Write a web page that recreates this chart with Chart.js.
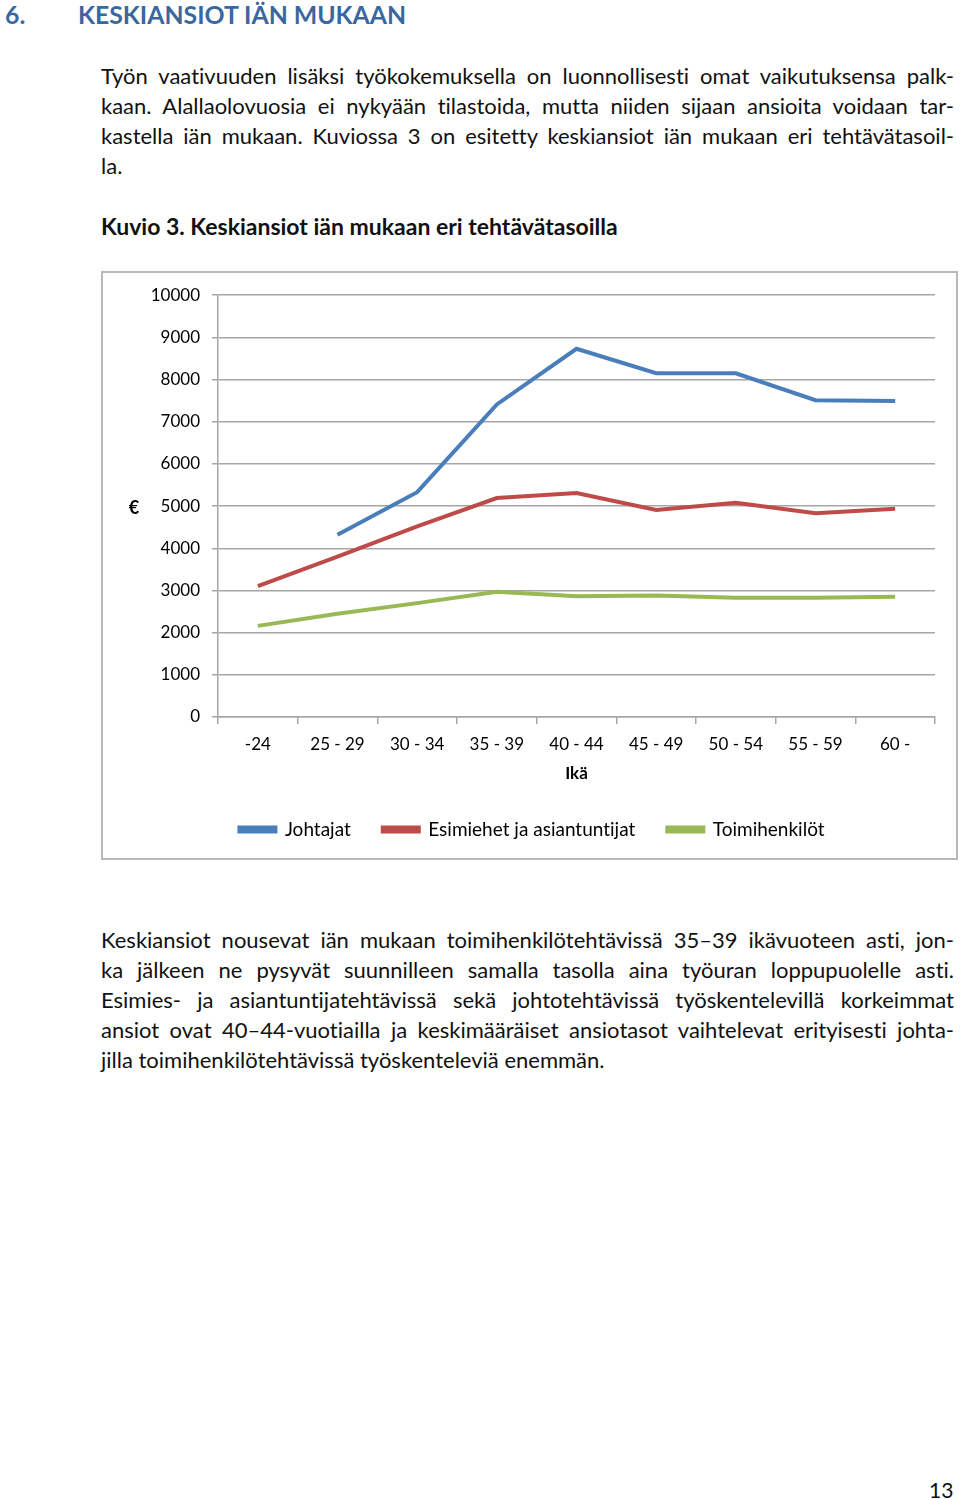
<!DOCTYPE html>
<html lang="fi">
<head>
<meta charset="utf-8">
<script src="https://cdn.jsdelivr.net/npm/chart.js@4.4.1/dist/chart.umd.min.js"></script>
<style>
  html, body { margin: 0; padding: 0; background: #fff; }
  body { width: 960px; height: 1499px; position: relative; overflow: hidden; font-family: Lato, "Liberation Sans", sans-serif; color: #111; font-variant-ligatures: none; }
  .abs { position: absolute; white-space: nowrap; }
  .h1 { font-weight: bold; font-size: 24.8px; color: #3a67a0; line-height: 30px; }
  .para { position: absolute; left: 101px; width: 853px; font-size: 22px; line-height: 30px; }
  .para div { text-align: justify; text-align-last: justify; white-space: nowrap; height: 30px; }
  .para div.last { text-align-last: left; }
  .cap { font-weight: bold; font-size: 23px; line-height: 30px; }
  #box { position: absolute; left: 101px; top: 271px; width: 853px; height: 585px; border: 2px solid #b8b8b8; }
  #wrap { position: absolute; left: 0; top: 0; width: 853px; height: 585px; }
</style>
</head>
<body>
<div class="abs h1" style="left:5px; top:0px;">6.</div>
<div class="abs h1" style="left:78px; top:0px;">KESKIANSIOT IÄN MUKAAN</div>

<div class="para" style="top:61px;">
  <div>Työn vaativuuden lisäksi työkokemuksella on luonnollisesti omat vaikutuksensa palk-</div>
  <div>kaan. Alallaolovuosia ei nykyään tilastoida, mutta niiden sijaan ansioita voidaan tar-</div>
  <div>kastella iän mukaan. Kuviossa 3 on esitetty keskiansiot iän mukaan eri tehtävätasoil-</div>
  <div class="last">la.</div>
</div>

<div class="abs cap" style="left:101px; top:211px;">Kuvio 3. Keskiansiot iän mukaan eri tehtävätasoilla</div>

<div id="box"><div id="wrap"><canvas id="c"></canvas></div></div>

<div class="para" style="top:925px;">
  <div>Keskiansiot nousevat iän mukaan toimihenkilötehtävissä 35–39 ikävuoteen asti, jon-</div>
  <div>ka jälkeen ne pysyvät suunnilleen samalla tasolla aina työuran loppupuolelle asti.</div>
  <div>Esimies- ja asiantuntijatehtävissä sekä johtotehtävissä työskentelevillä korkeimmat</div>
  <div>ansiot ovat 40–44-vuotiailla ja keskimääräiset ansiotasot vaihtelevat erityisesti johta-</div>
  <div class="last">jilla toimihenkilötehtävissä työskenteleviä enemmän.</div>
</div>

<div class="abs" style="left:929px; top:1476px; font-size:21px; line-height:28px;">13</div>

<script>
const categories = ['-24', '25 - 29', '30 - 34', '35 - 39', '40 - 44', '45 - 49', '50 - 54', '55 - 59', '60 -'];
const johtajat = [null, 4320, 5330, 7410, 8730, 8150, 8150, 7510, 7490];
const esimiehet = [3100, 3800, 4520, 5190, 5310, 4910, 5080, 4830, 4940];
const toimihenkilot = [2160, 2450, 2700, 2970, 2860, 2880, 2830, 2830, 2850];
const seriesNames = ['Johtajat', 'Esimiehet ja asiantuntijat', 'Toimihenkilöt'];
const yTitle = '€';
const xTitle = 'Ikä';

const FONT = 'Lato, "Liberation Sans", sans-serif';

const euroPlugin = {
  id: 'euroTitle',
  afterDraw(chart) {
    const ctx = chart.ctx;
    const area = chart.chartArea;
    ctx.save();
    ctx.font = 'bold 18px ' + FONT;
    ctx.fillStyle = '#000';
    ctx.textAlign = 'center';
    ctx.textBaseline = 'middle';
    ctx.fillText(yTitle, 31, (area.top + area.bottom) / 2 + 2);
    ctx.restore();
  }
};

new Chart(document.getElementById('c'), {
  type: 'line',
  data: {
    labels: categories,
    datasets: [
      { label: seriesNames[0], data: johtajat, borderColor: '#4a7ebb', backgroundColor: '#4a7ebb', borderWidth: 4, pointRadius: 0, tension: 0 },
      { label: seriesNames[1], data: esimiehet, borderColor: '#be4b48', backgroundColor: '#be4b48', borderWidth: 4, pointRadius: 0, tension: 0 },
      { label: seriesNames[2], data: toimihenkilot, borderColor: '#98b954', backgroundColor: '#98b954', borderWidth: 4, pointRadius: 0, tension: 0 }
    ]
  },
  options: {
    responsive: true,
    maintainAspectRatio: false,
    animation: false,
    layout: { padding: { left: 26, right: 21, top: 20, bottom: 9 } },
    plugins: {
      tooltip: { enabled: false },
      legend: {
        position: 'bottom',
        labels: {
          color: '#000',
          font: { family: FONT, size: 19 },
          boxWidth: 36,
          boxHeight: 4,
          padding: 32
        }
      }
    },
    scales: {
      x: {
        offset: true,
        grid: { offset: true, drawOnChartArea: false, drawTicks: true, tickLength: 7, color: '#a6a6a6', lineWidth: 1.5 },
        border: { display: true, color: '#a6a6a6', width: 1.5 },
        ticks: { color: '#000', font: { family: FONT, size: 17 }, padding: 10, maxRotation: 0 },
        title: { display: true, text: xTitle, color: '#000', font: { family: FONT, size: 17, weight: 'bold' }, padding: { top: 6 } },
        afterFit(scale) { scale.height = 71; }
      },
      y: {
        min: 0, max: 10000,
        ticks: { stepSize: 1000, color: '#000', font: { family: FONT, size: 17 }, padding: 12, callback: (v) => String(v) },
        grid: { color: '#a6a6a6', lineWidth: 1.5, tickLength: 6 },
        border: { display: true, color: '#a6a6a6', width: 1.5 },
        afterFit(scale) { scale.width = 89; }
      }
    }
  },
  plugins: [euroPlugin]
});
</script>
</body>
</html>
